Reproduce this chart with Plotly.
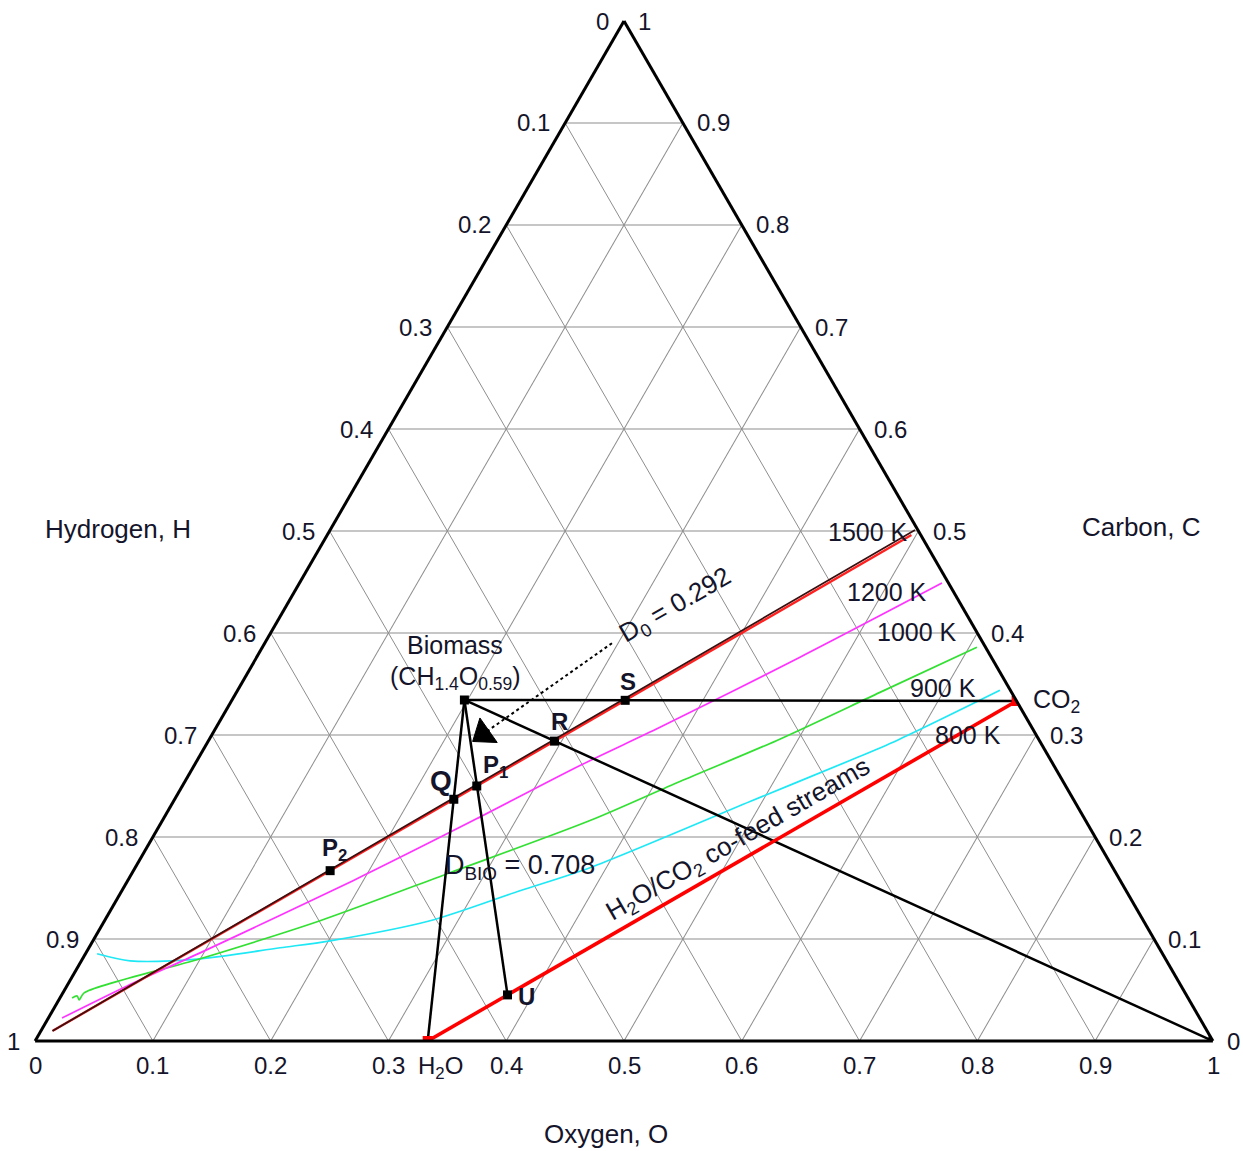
import plotly.graph_objects as go

# Mole fractions on the C-H-O diagram: a = carbon (top), b = hydrogen (bottom left),
# c = oxygen (bottom right). Hydrogen is always 1 - C - O.

# feedstock and co-feed species (C, O)
biomass_c, biomass_o = 0.3344, 0.1973
h2o_c, h2o_o = 0.0, 1 / 3
co2_c, co2_o = 1 / 3, 2 / 3
oxy_c, oxy_o = 0.0, 1.0

# construction points
pt_names = ["S", "R", "P1", "Q", "P2", "U"]
pt_c = [0.334, 0.294, 0.250, 0.237, 0.167, 0.0452]
pt_o = [0.334, 0.294, 0.250, 0.237, 0.167, 0.3785]

# C/O = 1 line
co_eq_c = [0.010, 0.496]
co_eq_o = [0.010, 0.496]

# carbon-deposition boundaries
t1500_c = [0.0098, 0.2500, 0.5010]
t1500_o = [0.0098, 0.2478, 0.4966]

t1200_c = [0.0226, 0.0540, 0.0864, 0.1572, 0.2161, 0.2701, 0.3075, 0.3762, 0.4489]
t1200_o = [0.0116, 0.0511, 0.0969, 0.1913, 0.2638, 0.3276, 0.3768, 0.4613, 0.5455]

t1000_c = [0.0422, 0.0442, 0.0403, 0.0472, 0.0806, 0.1179, 0.1650, 0.2161, 0.2544, 0.2947, 0.3418, 0.3861]
t1000_o = [0.0103, 0.0136, 0.0172, 0.0180, 0.0998, 0.1830, 0.2698, 0.3631, 0.4203, 0.4825, 0.5464, 0.6066]

t900_c = [0.0855, 0.0786, 0.0806, 0.0914, 0.0982, 0.1179, 0.1473, 0.1699, 0.2348, 0.2750, 0.2947, 0.3438]
t900_o = [0.0099, 0.0413, 0.0998, 0.1623, 0.2013, 0.2764, 0.3380, 0.3862, 0.4896, 0.5543, 0.5844, 0.6473]

# D0 pointer (start, end)
ptr_c = [0.390, 0.3010]
ptr_o = [0.2948, 0.2300]

tick_vals = [0, 0.1, 0.2, 0.3, 0.4, 0.5, 0.6, 0.7, 0.8, 0.9, 1]
tick_text = ["0", "0.1", "0.2", "0.3", "0.4", "0.5", "0.6", "0.7", "0.8", "0.9", "1"]

FONT = "Liberation Sans, Arial, sans-serif"
INK = "#14142a"


def hyd(cs, os_):
    return [1 - c - o for c, o in zip(cs, os_)]


def line(cs, os_, color, width, shape="linear", dash="solid"):
    return go.Scatterternary(
        a=cs, b=hyd(cs, os_), c=os_, mode="lines",
        line=dict(color=color, width=width, shape=shape, smoothing=0.8, dash=dash),
        hoverinfo="skip", showlegend=False,
    )


fig = go.Figure()

# equilibrium boundaries
fig.add_trace(line(t900_c, t900_o, "#1ee8f5", 1.7, "spline"))
fig.add_trace(line(t1000_c, t1000_o, "#33e033", 1.7, "spline"))
fig.add_trace(line(t1200_c, t1200_o, "#ff33ff", 1.7, "spline"))
fig.add_trace(line(co_eq_c, co_eq_o, "#ff2020", 2.4))
fig.add_trace(line(t1500_c, t1500_o, "#3a1010", 1.7, "spline"))

# process lines from biomass
fig.add_trace(line([biomass_c, co2_c], [biomass_o, co2_o], "black", 2.5))
fig.add_trace(line([biomass_c, oxy_c], [biomass_o, oxy_o], "black", 2.5))
fig.add_trace(line([biomass_c, h2o_c], [biomass_o, h2o_o], "black", 2.5))
fig.add_trace(line([biomass_c, pt_c[5]], [biomass_o, pt_o[5]], "black", 2.5))

# H2O/CO2 co-feed line
fig.add_trace(line([h2o_c, co2_c], [h2o_o, co2_o], "#ff0000", 3.6))

# D0 pointer: dotted shaft plus a solid head aligned with it
fig.add_trace(line(ptr_c, ptr_o, "black", 2, dash="dot"))
fig.add_trace(go.Scatterternary(
    a=ptr_c, b=hyd(ptr_c, ptr_o), c=ptr_o, mode="markers",
    marker=dict(size=[0, 26], symbol="triangle-up", angleref="previous",
                color="#000000", opacity=1, line=dict(width=1, color="#000000")),
    hoverinfo="skip", showlegend=False,
))

# black markers
mk_c = [biomass_c] + pt_c + [oxy_c]
mk_o = [biomass_o] + pt_o + [oxy_o]
fig.add_trace(go.Scatterternary(
    a=mk_c, b=hyd(mk_c, mk_o), c=mk_o, mode="markers",
    marker=dict(symbol="square", size=9, color="black"),
    hoverinfo="skip", showlegend=False,
))
# red markers for the co-feed species
fig.add_trace(go.Scatterternary(
    a=[h2o_c, co2_c], b=hyd([h2o_c, co2_c], [h2o_o, co2_o]), c=[h2o_o, co2_o],
    mode="markers", marker=dict(symbol="square", size=10, color="#ff0000"),
    hoverinfo="skip", showlegend=False,
))


def paper(c, o):
    return o + c / 2, c


ann = []


def note(c, o, text, dx=0, dy=0, size=25, xanchor="center", yanchor="middle", angle=0):
    x, y = paper(c, o)
    ann.append(dict(x=x, y=y, xref="paper", yref="paper", text=text, showarrow=False,
                    xshift=dx, yshift=dy, xanchor=xanchor, yanchor=yanchor, textangle=angle,
                    font=dict(family=FONT, size=size, color=INK)))


def free(x, y, text, size=25, xanchor="center", angle=0):
    ann.append(dict(x=x, y=y, xref="paper", yref="paper", text=text, showarrow=False,
                    xanchor=xanchor, yanchor="middle", textangle=angle,
                    font=dict(family=FONT, size=size, color=INK)))


# tick labels: hydrogen on the left edge, carbon on the right edge, oxygen along the base
for v, t in zip(tick_vals, tick_text):
    note(1 - v, 0, t, dx=-13, xanchor="right", size=24)
    note(v, 1 - v, t, dx=12, xanchor="left", size=24)
    note(0, v, t, dy=-9, yanchor="top", size=24)

# point labels
note(biomass_c, biomass_o, "Biomass", dx=-9, dy=55)
note(biomass_c, biomass_o, "(CH<sub>1.4</sub>O<sub>0.59</sub>)", dx=-9, dy=22)
shifts = {"S": (3, 19), "R": (5, 20), "P1": (19, 20), "Q": (-13, 19), "P2": (4, 21), "U": (19, -2)}
labels = {"S": "<b>S</b>", "R": "<b>R</b>", "P1": "<b>P<sub>1</sub></b>", "Q": "<b>Q</b>",
          "P2": "<b>P<sub>2</sub></b>", "U": "<b>U</b>"}
for n, c, o in zip(pt_names, pt_c, pt_o):
    dx, dy = shifts[n]
    note(c, o, labels[n], dx=dx, dy=dy, size=28 if n == "Q" else 24)
note(co2_c, co2_o, "CO<sub>2</sub>", dx=14, dy=0, xanchor="left")
note(h2o_c, h2o_o, "H<sub>2</sub>O", dx=13, dy=-9, yanchor="top", size=24)

# temperature labels
free(0.7071, 0.499, "1500 K")
free(0.7233, 0.4402, "1200 K")
free(0.7487, 0.401, "1000 K")
free(0.7708, 0.3461, "900 K")
free(0.7920, 0.300, "800 K")

# axis titles
free(0.0705, 0.502, "Hydrogen, H", size=26)
free(0.9389, 0.504, "Carbon, C", size=26)
free(0.4847, -0.0912, "Oxygen, O", size=26)

# construction annotations
free(0.3464, 0.171, "D<sub>BIO</sub> = 0.708", size=27, xanchor="left")
free(0.5441, 0.4265, "D<sub>0</sub> = 0.292", size=26, angle=-30)
free(0.5976, 0.1971, "H<sub>2</sub>O/CO<sub>2</sub> co-feed streams", size=26, angle=-30)

axis = dict(title=dict(text=""), showticklabels=False, ticks="", linecolor="black",
            linewidth=3, showgrid=True, gridcolor="#8e8e8e", gridwidth=1.3,
            tick0=0, dtick=0.1, min=0)

fig.update_layout(
    width=1243, height=1151,
    margin=dict(l=35, r=30, t=21, b=110),
    paper_bgcolor="white",
    hovermode=False,
    ternary=dict(sum=1, bgcolor="white", domain=dict(x=[0, 1], y=[0, 1]),
                 aaxis=axis, baxis=axis, caxis=axis),
    annotations=ann,
    font=dict(family=FONT, color=INK),
)

fig.write_html("out.html")
